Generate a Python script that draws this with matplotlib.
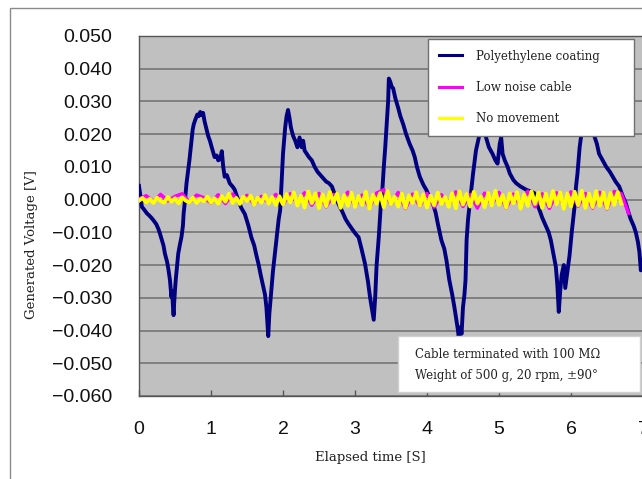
import numpy as np
import matplotlib
matplotlib.use("Agg")
import matplotlib.pyplot as plt
from matplotlib.patches import Rectangle
from matplotlib.lines import Line2D

# ---------------- data ----------------
series_names = ["Polyethylene coating", "Low noise cable", "No movement"]
series_colors = ["#000080", "#FF00FF", "#FFFF00"]

blue_t = [0.00, 0.02, 0.04, 0.07, 0.11, 0.14, 0.17, 0.20, 0.24, 0.27, 0.29, 0.32, 0.34, 0.36, 0.39,
          0.41, 0.43, 0.44, 0.45, 0.46, 0.47, 0.48, 0.49, 0.50, 0.51, 0.53, 0.545, 0.57, 0.59, 0.61,
          0.62, 0.64, 0.66, 0.68, 0.70, 0.72, 0.745, 0.76, 0.78, 0.81, 0.83, 0.85, 0.87, 0.89, 0.91,
          0.94, 0.96, 0.985, 1.01, 1.05, 1.08, 1.10, 1.13, 1.15, 1.17, 1.19, 1.22, 1.26, 1.30, 1.33,
          1.36, 1.38, 1.42, 1.47, 1.52, 1.56, 1.60, 1.63, 1.66, 1.69, 1.72, 1.75, 1.77, 1.785, 1.795,
          1.81, 1.84, 1.86, 1.88, 1.91, 1.94, 1.96, 1.98, 2.00, 2.03, 2.05, 2.07, 2.09, 2.11, 2.14,
          2.17, 2.20, 2.23, 2.26, 2.28, 2.30, 2.33, 2.36, 2.40, 2.44, 2.48, 2.54, 2.60, 2.64, 2.68,
          2.72, 2.77, 2.82, 2.87, 2.91, 2.96, 3.01, 3.05, 3.09, 3.14, 3.18, 3.21, 3.24, 3.26, 3.28,
          3.30, 3.33, 3.36, 3.38, 3.40, 3.42, 3.44, 3.46, 3.47, 3.49, 3.51, 3.53, 3.56, 3.60, 3.63,
          3.67, 3.71, 3.76, 3.80, 3.83, 3.86, 3.90, 3.95, 3.99, 4.03, 4.08, 4.12, 4.15, 4.20, 4.24,
          4.27, 4.31, 4.35, 4.38, 4.41, 4.43, 4.44, 4.46, 4.48, 4.50, 4.52, 4.535, 4.55, 4.57, 4.59,
          4.62, 4.64, 4.68, 4.73, 4.77, 4.80, 4.82, 4.86, 4.91, 4.95, 4.98, 5.01, 5.03, 5.05, 5.08,
          5.12, 5.15, 5.20, 5.24, 5.30, 5.38, 5.44, 5.49, 5.52, 5.56, 5.60, 5.65, 5.69, 5.72, 5.76,
          5.79, 5.81, 5.83, 5.85, 5.87, 5.90, 5.92, 5.95, 5.98, 6.01, 6.05, 6.07, 6.09, 6.12, 6.15,
          6.18, 6.22, 6.26, 6.29, 6.32, 6.36, 6.39, 6.44, 6.49, 6.54, 6.58, 6.62, 6.67, 6.72, 6.76,
          6.80, 6.83, 6.87, 6.90, 6.93, 6.95, 6.97, 7.00]
blue_v = [0.0042, 0.0010, -0.0022, -0.0030, -0.0042, -0.0048, -0.0055, -0.0063, -0.0075, -0.0090,
          -0.0103, -0.0125, -0.0140, -0.0165, -0.0190, -0.0215, -0.0246, -0.0270, -0.0297, -0.0280,
          -0.0320, -0.0353, -0.0310, -0.0275, -0.0246, -0.0200, -0.0165, -0.0135, -0.0114, -0.0080,
          -0.0042, 0.0000, 0.0050, 0.0085, 0.0120, 0.0160, 0.0213, 0.0230, 0.0243, 0.0260,
          0.0255, 0.0268, 0.0258, 0.0265, 0.0240, 0.0213, 0.0195, 0.0180, 0.0160, 0.0130,
          0.0135, 0.0120, 0.0125, 0.0148, 0.0100, 0.0070, 0.0075, 0.0050, 0.0040, 0.0030,
          0.0010, -0.0002, -0.0025, -0.0044, -0.0080, -0.0115, -0.0140, -0.0170, -0.0197, -0.0230,
          -0.0260, -0.0290, -0.0330, -0.0380, -0.0417, -0.0350, -0.0270, -0.0220, -0.0180, -0.0120,
          -0.0060, -0.0033, 0.0050, 0.0140, 0.0220, 0.0255, 0.0274, 0.0250, 0.0220, 0.0195,
          0.0180, 0.0160, 0.0190, 0.0160, 0.0180, 0.0150, 0.0140, 0.0130, 0.0120, 0.0100,
          0.0085, 0.0070, 0.0055, 0.0050, 0.0040, 0.0015, -0.0013, -0.0035, -0.0060, -0.0074,
          -0.0090, -0.0105, -0.0115, -0.0150, -0.0197, -0.0250, -0.0300, -0.0340, -0.0367, -0.0300,
          -0.0200, -0.0115, -0.0010, 0.0030, 0.0100, 0.0160, 0.0230, 0.0300, 0.0370, 0.0360,
          0.0345, 0.0340, 0.0310, 0.0280, 0.0255, 0.0230, 0.0200, 0.0170, 0.0150, 0.0130,
          0.0100, 0.0070, 0.0045, 0.0030, 0.0010, -0.0010, -0.0040, -0.0073, -0.0124, -0.0150,
          -0.0185, -0.0246, -0.0290, -0.0328, -0.0370, -0.0399, -0.0420, -0.0390, -0.0410, -0.0328,
          -0.0290, -0.0246, -0.0124, -0.0060, -0.0020, 0.0040, 0.0080, 0.0150, 0.0200, 0.0250,
          0.0230, 0.0190, 0.0160, 0.0140, 0.0120, 0.0110, 0.0170, 0.0190, 0.0140, 0.0120,
          0.0100, 0.0080, 0.0060, 0.0050, 0.0040, 0.0030, 0.0025, 0.0020, -0.0010, -0.0030,
          -0.0055, -0.0080, -0.0100, -0.0124, -0.0170, -0.0206, -0.0260, -0.0343, -0.0280, -0.0230,
          -0.0200, -0.0270, -0.0220, -0.0170, -0.0100, -0.0020, 0.0040, 0.0080, 0.0160, 0.0210,
          0.0240, 0.0250, 0.0230, 0.0210, 0.0197, 0.0170, 0.0140, 0.0120, 0.0100, 0.0085,
          0.0070, 0.0055, 0.0040, 0.0010, -0.0010, -0.0040, -0.0060, -0.0080, -0.0100, -0.0130,
          -0.0160, -0.0216, -0.0185]

magenta_t = np.round(np.arange(0, 6.85, 0.1), 2)
magenta_v = [0.0002, 0.0012, -0.0006, 0.0016, -0.0004, 0.0010, 0.0018, -0.0008, 0.0014, 0.0006,
             -0.0010, 0.0015, -0.0012, 0.0017, -0.0006, 0.0013, -0.0014, 0.0010, -0.0009, 0.0016,
             -0.0013, 0.0018, -0.0010, 0.0021, -0.0017, 0.0019, -0.0022, 0.0016, -0.0012, 0.0023,
             -0.0019, 0.0014, -0.0024, 0.0020, 0.0030, -0.0015, 0.0022, -0.0027, 0.0017, -0.0020,
             0.0019, -0.0023, 0.0015, -0.0018, 0.0024, -0.0021, 0.0016, -0.0026, 0.0020, -0.0014,
             0.0022, -0.0025, 0.0017, -0.0019, 0.0026, -0.0022, 0.0018, -0.0027, 0.0021, -0.0016,
             0.0024, -0.0020, 0.0019, -0.0026, 0.0022, -0.0028, 0.0025, 0.0018, -0.0042]

yellow_t = np.round(np.arange(0, 6.72, 0.05), 2)
yellow_v = [-0.0003, 0.0005, -0.0008, 0.0002, -0.0010, 0.0006, -0.0004, -0.0009, 0.0008, -0.0006,
            0.0004, -0.0011, 0.0007, -0.0003, -0.0008, 0.0006, -0.0010, 0.0003, -0.0005, 0.0009,
            -0.0009, 0.0004, -0.0012, 0.0011, -0.0006, 0.0018, -0.0010, 0.0005, -0.0013, 0.0009,
            -0.0004, 0.0012, -0.0015, 0.0006, -0.0009, 0.0014, -0.0012, 0.0008, -0.0016, 0.0010,
            -0.0014, 0.0017, -0.0008, 0.0022, -0.0018, 0.0012, -0.0024, 0.0025, -0.0011, 0.0019,
            -0.0026, 0.0016, -0.0020, 0.0023, -0.0009, 0.0018, -0.0025, 0.0014, -0.0019, 0.0021,
            -0.0022, 0.0011, -0.0016, 0.0024, -0.0027, 0.0015, -0.0012, 0.0020, -0.0023, 0.0026,
            -0.0014, 0.0009, -0.0021, 0.0018, -0.0025, 0.0013, -0.0010, 0.0022, -0.0019, 0.0016,
            -0.0024, 0.0012, -0.0017, 0.0021, -0.0013, 0.0008, -0.0022, 0.0019, -0.0026, 0.0025,
            -0.0015, 0.0017, -0.0021, 0.0024, -0.0012, 0.0010, -0.0023, 0.0020, -0.0018, 0.0027,
            -0.0016, 0.0014, -0.0024, 0.0019, -0.0011, 0.0023, -0.0027, 0.0016, -0.0019, 0.0025,
            -0.0013, 0.0021, -0.0025, 0.0018, -0.0020, 0.0026, -0.0014, 0.0022, -0.0028, 0.0019,
            -0.0021, 0.0024, -0.0017, 0.0027, -0.0025, 0.0018, -0.0023, 0.0026, -0.0019, 0.0022,
            -0.0026, 0.0020, -0.0016, 0.0023, -0.0012]

x_ticks = [0, 1, 2, 3, 4, 5, 6, 7]
y_ticks = [0.050, 0.040, 0.030, 0.020, 0.010, 0.000, -0.010, -0.020, -0.030, -0.040, -0.050, -0.060]
y_tick_labels = [("\u2212" if v < 0 else "") + f"{abs(v):.3f}" for v in y_ticks]

x_label = "Elapsed time [S]"
y_label = "Generated Voltage [V]"
note_lines = ["Cable terminated with 100 M\u03a9", "Weight of 500 g, 20 rpm, \u00b190\u00b0"]

# ---------------- figure ----------------
W, H = 642, 479
fig = plt.figure(figsize=(W / 100, H / 100), dpi=100)
fig.patch.set_facecolor("white")

# outer chart frame
fig.patches.append(Rectangle((10 / W, -0.2), 1.5, 1.2 - 8 / H, transform=fig.transFigure,
                             fill=False, edgecolor="#8a8a8a", lw=1.0, zorder=0))

ax = fig.add_axes([139 / W, 1 - 396 / H, (643 - 139) / W, (396 - 36) / H])
ax.set_facecolor("#C0C0C0")
ax.set_xlim(0, 7)
ax.set_ylim(-0.060, 0.050)

for v in y_ticks:
    ax.axhline(v, color="#6e6e6e", lw=1.1, zorder=1)

ax.plot(blue_t, blue_v, color=series_colors[0], lw=2.8, zorder=3)
ax.plot(magenta_t, magenta_v, color=series_colors[1], lw=2.5, zorder=4)
ax.plot(yellow_t, yellow_v, color=series_colors[2], lw=2.8, zorder=5)

tick_font = dict(family="Liberation Sans", size=14)
ax.set_xticks(x_ticks)
ax.set_xticklabels([str(v) for v in x_ticks], fontdict=tick_font, color="#111111")
ax.set_yticks(y_ticks)
ax.set_yticklabels(y_tick_labels, fontdict=tick_font, color="#111111")
ax.tick_params(axis="x", direction="in", length=4, width=1, color="#555555", pad=18)
ax.tick_params(axis="y", length=0, pad=19.5)
for s in ax.spines.values():
    s.set_color("#555555")
    s.set_linewidth(1.0)

serif = ["DejaVu Serif"]
fig.text(32 / W, 1 - 245 / H, y_label, rotation=90, ha="center", va="center",
         family=serif, size=9.5, color="#222222")
fig.text(370 / W, 1 - 457 / H, x_label, ha="center", va="center",
         family=serif, size=9.5, color="#222222")

# legend
handles = [Line2D([], [], color=c, lw=2.2) for c in series_colors]
leg = ax.legend(handles, series_names, loc="upper left",
                bbox_to_anchor=(428 / W, 1 - 134 / H, (634 - 428) / W, (134 - 39) / H),
                bbox_transform=fig.transFigure, mode="expand", frameon=True,
                fancybox=False, framealpha=1, edgecolor="#707070",
                prop=dict(family=serif, size=8.5), borderpad=0.9, labelspacing=1.55,
                handlelength=2.0, handletextpad=1.2, borderaxespad=0)
leg.get_frame().set_linewidth(1.0)
leg.set_zorder(10)
for t in leg.get_texts():
    t.set_color("#222222")

# annotation box
fig.patches.append(Rectangle((398 / W, 1 - 392 / H), (640 - 398) / W, (392 - 336) / H,
                             transform=fig.transFigure, facecolor="white",
                             edgecolor="#d0d0d0", lw=1.0, zorder=10))
for i, line in enumerate(note_lines):
    fig.text(415 / W, 1 - (355 + 20 * i) / H, line, ha="left", va="center",
             family=serif, size=8.5, color="#222222", zorder=11)

fig.savefig("out.png", dpi=100)
